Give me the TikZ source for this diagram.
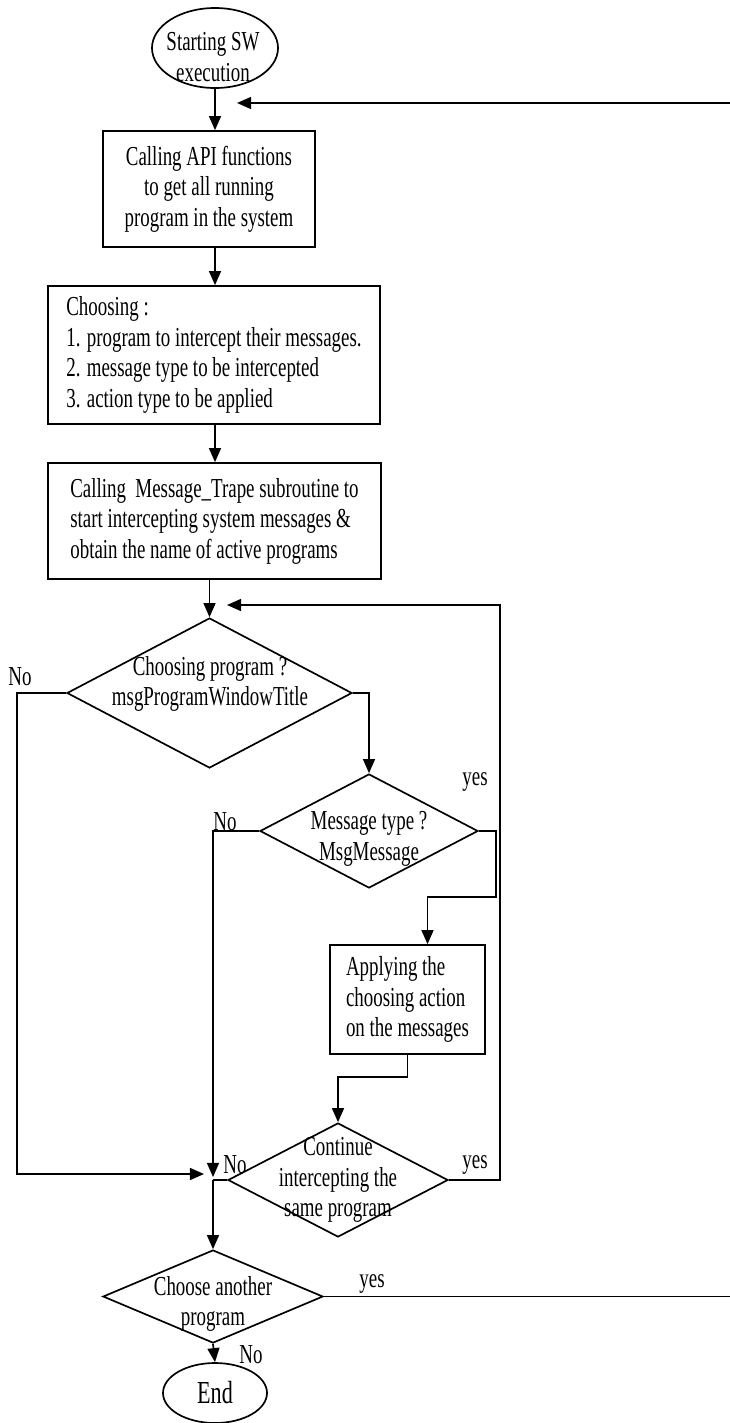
\documentclass[tikz,border=0pt]{standalone}
\usepackage{fontspec}
\setmainfont{Liberation Serif}[FakeStretch=0.69]
\usetikzlibrary{shapes.geometric,arrows.meta}

\begin{document}
\begin{tikzpicture}[
  x=0.025cm, y=-0.025cm,
  font=\fontsize{19.5}{21.7}\selectfont,
  box/.style={draw, line width=1.2pt, align=center},
  term/.style={draw, ellipse, line width=1.2pt},
  decision/.style={draw, diamond, line width=1.2pt},
  txt/.style={align=center, inner sep=0pt},
  lbl/.style={inner sep=0pt},
  line/.style={line width=1.2pt},
  arr/.style={-{Triangle[length=10pt,width=8.5pt]}, line width=1.2pt}
]
  \useasboundingbox (0,0) rectangle (730,1423);
  \clip (0,0) rectangle (730,1423);

  \node[term, minimum width=3.15cm, minimum height=2cm] (start) at (215,48) {};
  \node[txt] (starttxt) at (213,57) {Starting SW\\execution};
  \node[box, minimum width=5.3cm, minimum height=2.9cm] (api) at (209,189)
    {Calling API functions\\to get all running\\program in the system};
  \node[box, align=left, minimum width=8.3cm, minimum height=3.45cm] (choose) at (214,355)
    {Choosing :\\1. program to intercept their messages.\\2. message type to be intercepted\\3. action type to be applied};
  \node[box, align=left, minimum width=8.325cm, minimum height=2.9cm] (trap) at (214.5,521)
    {Calling\ \ Message\_Trape subroutine to\\start intercepting system messages \&\\obtain the name of active programs};

  \node[decision, minimum width=7.125cm, minimum height=3.75cm] (prog) at (209.5,693) {};
  \node[txt] (progtxt) at (210,684) {Choosing program ?\\msgProgramWindowTitle};
  \node[decision, minimum width=5.45cm, minimum height=2.85cm] (msg) at (369,831) {};
  \node[txt] (msgtxt) at (369,839) {Message type ?\\MsgMessage};
  \node[box, align=left, minimum width=3.875cm, minimum height=2.725cm] (apply) at (407.5,999.5)
    {Applying the\\choosing action\\on the messages};
  \node[decision, minimum width=5.5cm, minimum height=2.85cm] (cont) at (338,1180) {};
  \node[txt] (conttxt) at (338,1180) {Continue\\intercepting the\\same program};
  \node[decision, minimum width=5.5cm, minimum height=2.325cm] (another) at (213,1296.5) {};
  \node[txt] (anothertxt) at (213,1304) {Choose another\\program};
  \node[term, minimum width=2.6cm, minimum height=1.5cm, font=\fontsize{22.8}{26}\selectfont] (endn) at (215,1393) {End};

  % branch labels
  \node[lbl] (no1) at (20,677) {No};
  \node[lbl] (yes2) at (475,782) {yes};
  \node[lbl] (no2) at (225,822) {No};
  \node[lbl] (no3) at (235,1165) {No};
  \node[lbl] (yes3) at (475,1165) {yes};
  \node[lbl] (yes4) at (372,1284) {yes};
  \node[lbl] (no4) at (251,1355) {No};

  % helper points
  \coordinate (ret) at (237,103);
  \coordinate (retside) at (745,103);
  \coordinate (back) at (227,605);
  \coordinate (backside) at (500,605);
  \coordinate (lside) at (17,1174);
  \coordinate (join) at (204,1174);
  \coordinate (nomsg) at (213,1177);
  \coordinate (rmsg) at (496,897);
  \coordinate (mrg) at (213,1180);

  \draw[arr] (start.south) -- (start.south |- api.north);
  \draw[arr] (api.south -| start) -- (choose.north -| start);
  \draw[arr] (choose.south -| start) -- (trap.north -| start);
  \draw[arr] (trap.south -| prog) -- (prog.north);
  \draw[arr] (prog.east) -| (msg.north);
  \draw[arr] (prog.west) -| (lside) -- (join);
  \draw[arr] (msg.west) -| (nomsg);
  \draw[arr] (msg.east) -| (rmsg) -| ([xshift=0.5cm]apply.north);
  \draw[arr] (apply.south) -- ++(0,22) -| (cont.north);
  \draw[line] (cont.west) -- (mrg);
  \draw[arr] (cont.east) -| (backside) -- (back);
  \draw[arr] (mrg) -- (another.north);
  \draw[arr] (another.east) -| (retside) -- (ret);
  \draw[arr] (another.south) -- (endn.north);
\end{tikzpicture}
\end{document}
